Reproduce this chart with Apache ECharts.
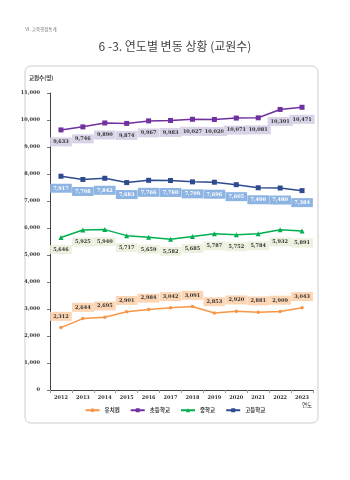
<!DOCTYPE html>
<html><head><meta charset="utf-8">
<script src="https://cdn.jsdelivr.net/npm/echarts@6/dist/echarts.min.js"></script>
<style>html,body{margin:0;padding:0;background:#fff}#c{width:350px;height:480px}</style>
</head><body><div id="c"></div>
<script>
const years = ['2012','2013','2014','2015','2016','2017','2018','2019','2020','2021','2022','2023'];
const kindergarten = [2312,2644,2695,2901,2984,3042,3091,2853,2920,2881,2909,3043];
const elementary = [9633,9746,9890,9874,9967,9983,10027,10020,10071,10081,10391,10471];
const middle = [5646,5925,5940,5717,5659,5582,5685,5787,5752,5784,5932,5891];
const high = [7917,7798,7842,7683,7766,7760,7709,7696,7605,7490,7480,7384];
const yTicks = [0,1000,2000,3000,4000,5000,6000,7000,8000,9000,10000,11000];

const fmt = v => v.toLocaleString('en-US');
const F = '"Noto Sans CJK KR", "Noto Sans", sans-serif';
function lbl(pos, bg, color, dist){
  return {show:true, position:pos, distance:dist, formatter:p=>fmt(p.value),
    fontSize:5, fontWeight:'bold', color:color||'#333', backgroundColor:bg,
    padding:[2,3], fontFamily:'"DejaVu Serif", serif'};
}
function ser(name, data, color, symbol, size, label){
  return {name, type:'line', data, symbol, symbolSize:size,
    lineStyle:{color, width:1.5}, itemStyle:{color}, label, z:3};
}
const chart = echarts.init(document.getElementById('c'), null, {renderer:'canvas'});
chart.setOption({
  animation:false,
  textStyle:{fontFamily:F},
  graphic:[
    {type:'text', left:25, top:27, style:{text:'Ⅵ. 교육행정통계', fontSize:4.5, fill:'#777', fontFamily:F}},
    {type:'text', left:'center', top:40, style:{text:'6 -3. 연도별 변동 상황 (교원수)', fontSize:12, fill:'#444', fontFamily:F}},
    {type:'rect', shape:{x:25, y:66, width:293, height:357, r:6}, style:{fill:'none', stroke:'#ccc', lineWidth:1}, z:-1},
    {type:'text', left:29, top:75, style:{text:'교원수(명)', fontSize:5.5, fontWeight:'bold', fill:'#333', fontFamily:F}},
    {type:'text', left:302, top:402, style:{text:'연도', fontSize:5.5, fill:'#333', fontFamily:F}}
  ],
  grid:{left:50, right:37, top:93, bottom:90},
  legend:{bottom:62, left:'center', itemWidth:14, itemHeight:5, itemGap:10,
    textStyle:{fontSize:5.5, fontWeight:'bold', color:'#333'},
    data:['유치원','초등학교','중학교','고등학교']},
  xAxis:{type:'category', data:years, boundaryGap:true,
    axisLine:{lineStyle:{color:'#444', width:1}},
    axisTick:{show:true, length:3, lineStyle:{color:'#999'}},
    axisLabel:{fontSize:5, fontWeight:'bold', color:'#333', margin:5, fontFamily:'"DejaVu Serif", serif'}},
  yAxis:{type:'value', min:0, max:11000, interval:1000,
    axisLine:{show:true, lineStyle:{color:'#444', width:1}},
    axisTick:{show:true, length:3, lineStyle:{color:'#777'}},
    splitLine:{show:false},
    axisLabel:{fontSize:5, fontWeight:'bold', color:'#333', margin:10, fontFamily:'"DejaVu Serif", serif',
      formatter:v=> yTicks.includes(v) ? fmt(v) : ''}},
  series:[
    ser('유치원', kindergarten, '#F79646', 'circle', 3.5, lbl('top','#FCD5B4','#333',5)),
    ser('초등학교', elementary, '#7030A0', 'rect', 5, lbl('bottom','#D9D3E8','#333',5)),
    ser('중학교', middle, '#00B050', 'triangle', 5, lbl('bottom','#EBF1DE','#333',5)),
    ser('고등학교', high, '#2F4B8F', 'rect', 5, lbl('bottom','#8DB4E2','#fff',5))
  ]
});
</script></body></html>
